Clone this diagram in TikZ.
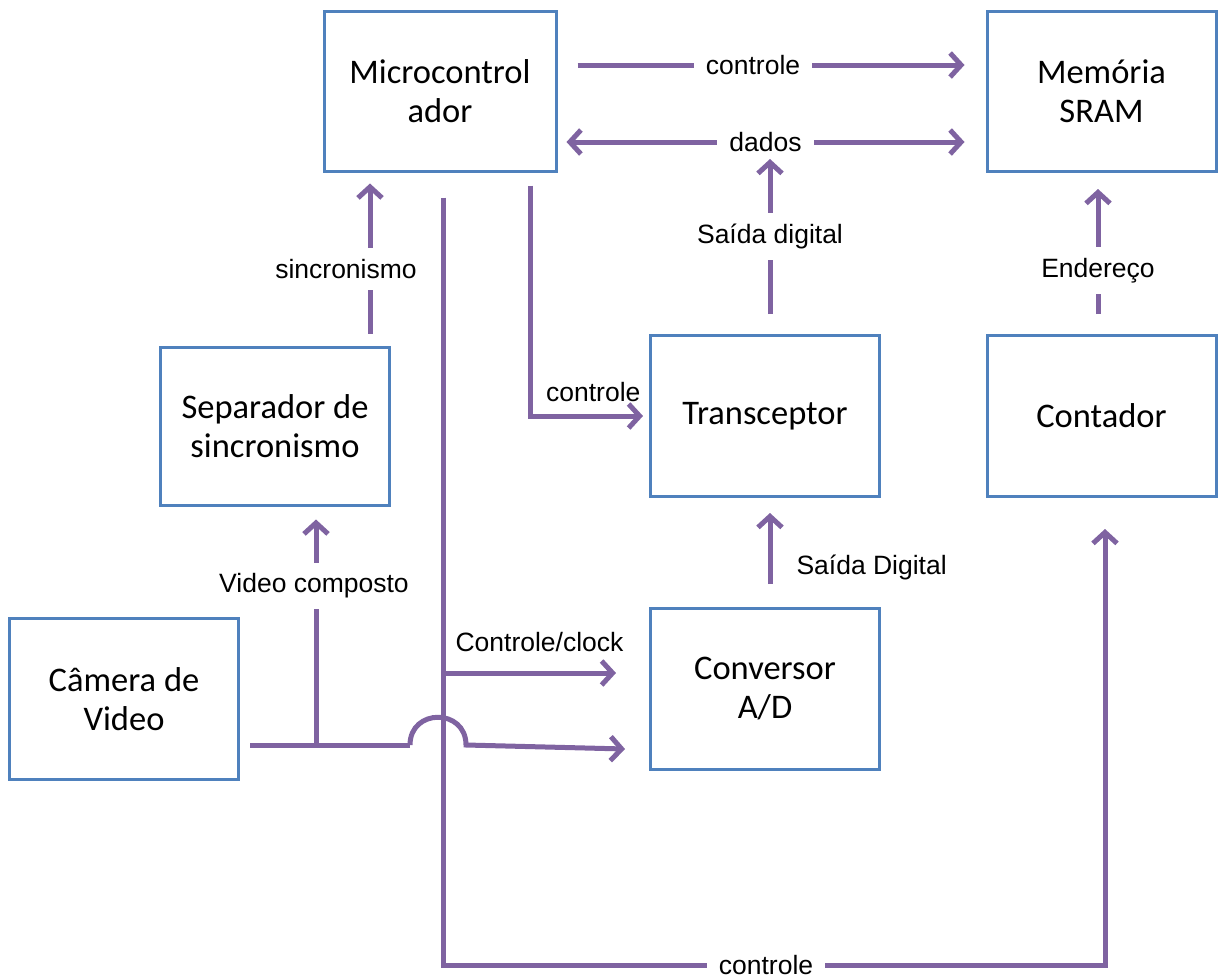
\documentclass[tikz,border=0pt]{standalone}
\usepackage{fontspec}
\setmainfont{Liberation Sans}
\newfontfamily\boxfont{Carlito}
\usetikzlibrary{arrows.meta}
\definecolor{boxblue}{HTML}{4F81BD}
\definecolor{wire}{HTML}{7F63A1}

\begin{document}
\begin{tikzpicture}[x=1pt,y=-1pt,
  block/.style={draw=boxblue,line width=3pt,fill=white,minimum width=229pt,
    minimum height=161pt,align=center,inner sep=0pt,
    font=\boxfont\fontsize{34.5}{39}\selectfont},
  wireline/.style={draw=wire,line width=5pt},
  arr/.style={wireline,-{Straight Barb[length=11pt,width=24pt]}},
  dbl/.style={wireline,{Straight Barb[length=11pt,width=24pt]}-{Straight Barb[length=11pt,width=24pt]}},
  lab/.style={fill=white,inner xsep=12pt,inner ysep=11pt,font=\fontsize{26.5}{30}\selectfont},
  tag/.style={inner sep=2pt,font=\fontsize{26.5}{30}\selectfont}]
\useasboundingbox (0,0) rectangle (1219,978);

% blocks
\node[block,minimum width=232pt,minimum height=160pt] (micro) at (440,91) {Microcontrol\\ador};
\node[block,minimum height=160pt] (mem) at (1101.5,91) {Memória\\SRAM};
\node[block,minimum height=158pt] (sep) at (275,426) {Separador de\\sincronismo};
\node[block] (trans) at (765,416) {Transceptor};
\node[block] (cont) at (1101.5,416) {Contador};
\node[block] (cam) at (124,699) {Câmera de\\Video};
\node[block] (conv) at (765,689) {Conversor\\A/D};

% bus corners
\coordinate (bl) at (443,965);
\coordinate (clk) at (443,673);
\coordinate (tee) at (316,745);
\coordinate (humpL) at (410,745);
\coordinate (humpR) at (466,745);

% microcontroller <-> memory
\draw[arr] ([xshift=20pt,yshift=26pt]micro.east) -- node[lab,xshift=-18pt]{controle} ([xshift=-21pt,yshift=26pt]mem.west);
\draw[dbl] ([xshift=9pt,yshift=-51pt]micro.east) -- node[lab]{dados} ([xshift=-21pt,yshift=-51pt]mem.west);

% transceiver output to data bus
\draw[arr] ([xshift=5pt,yshift=20pt]trans.north) -- node[lab]{Saída digital} ++(0,-155);

% counter address
\draw[arr] ([xshift=-3.5pt,yshift=20pt]cont.north) -- node[lab,pos=0.35]{Endereço} ++(0,-125);

% sync separator to microcontroller
\draw[arr] ([xshift=95pt,yshift=12pt]sep.north) -- node[lab,pos=0.43,xshift=-24pt]{sincronismo} ++(0,-150);

% microcontroller control to transceiver
\draw[arr] ([xshift=90pt,yshift=-13pt]micro.south) |- node[tag,pos=0.78,above=10pt]{controle} ([xshift=-6pt]trans.west);

% control bus to counter
\draw[arr] ([xshift=3pt,yshift=-25pt]micro.south) -- (bl) -| node[lab,pos=0.25,xshift=-8pt]{controle} ([xshift=3.5pt,yshift=-31pt]cont.south);

% clock to converter
\draw[arr] (clk) -- node[tag,above=17pt,xshift=10pt]{Controle/clock} ([xshift=-33pt,yshift=16pt]conv.west);

% converter output to transceiver
\draw[arr] ([xshift=5pt,yshift=23pt]conv.north) -- node[tag,right=22pt,yshift=-19pt]{Saída Digital} ([xshift=5pt,yshift=-15pt]trans.south);

% camera video line with hop over the bus
\draw[wireline] ([xshift=10pt,yshift=-46pt]cam.east) -- (humpL);
\draw[arr] (humpL) .. controls (410,708) and (466,708) .. (humpR) -- ([xshift=-24pt,yshift=-60pt]conv.west);

% composite video to sync separator
\draw[arr] (tee) -- node[lab,pos=0.705,xshift=-2pt]{Video composto} ([xshift=41pt,yshift=-13pt]sep.south);
\end{tikzpicture}
\end{document}
